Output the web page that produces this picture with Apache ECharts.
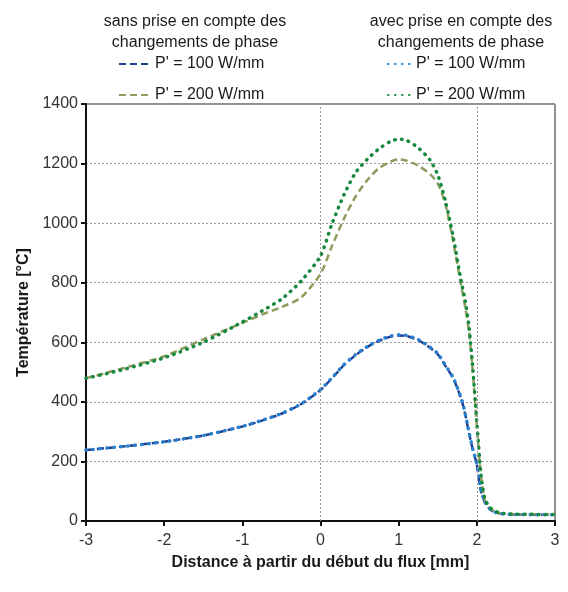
<!DOCTYPE html>
<html>
<head>
<meta charset="utf-8">
<script src="https://cdn.jsdelivr.net/npm/echarts@6/dist/echarts.min.js"></script>
<style>
  html, body { margin: 0; padding: 0; background: #fff; }
  #main { width: 568px; height: 592px; }
</style>
</head>
<body>
<div id="main"></div>
<script>
// abscisses communes (mm)
const xs = [-3, -2.5, -2, -1.5, -1, -0.75, -0.5, -0.25, 0, 0.15, 0.3, 0.45, 0.6, 0.75, 0.9, 1.0, 1.1, 1.25,
  1.4, 1.5, 1.6, 1.7, 1.8, 1.85, 1.9, 1.95, 2.0, 2.05, 2.1, 2.15, 2.2, 2.3, 2.5, 3];

// températures (°C)
const sans100 = [238, 251, 266, 287, 317, 337, 360, 392, 440, 480, 523, 557, 584, 605, 619, 623, 621, 607,
  582, 560, 520, 478, 410, 360, 295, 238, 190, 105, 65, 45, 33, 25, 22, 21];
const avec100 = [238, 251, 266, 287, 318, 338, 361, 393, 441, 482, 525, 559, 586, 607, 621, 625, 623, 609,
  584, 562, 522, 480, 412, 362, 298, 240, 192, 108, 66, 46, 33, 25, 22, 21];
const sans200 = [479, 515, 553, 610, 665, 693, 718, 750, 830, 925, 1015, 1090, 1145, 1185, 1207, 1214, 1210, 1193,
  1165, 1133, 1062, 935, 790, 720, 635, 495, 320, 160, 72, 50, 36, 26, 23, 22];
const avec200 = [479, 510, 548, 600, 668, 705, 745, 805, 890, 1000, 1095, 1170, 1215, 1250, 1275, 1282, 1278, 1253,
  1212, 1162, 1072, 950, 805, 740, 652, 507, 335, 165, 75, 52, 38, 27, 23, 22];

const legendLabels = {
  sans100: "P' = 100 W/mm",
  sans200: "P' = 200 W/mm",
  avec100: "P' = 100 W/mm",
  avec200: "P' = 200 W/mm"
};
const headers = ["sans prise en compte des\nchangements de phase", "avec prise en compte des\nchangements de phase"];
const vGridX = [0, 2];

const font = "Liberation Sans, Arial, sans-serif";
const pairs = (ys) => xs.map((x, i) => [x, ys[i]]);

const dashed = (name, ys, color) => ({
  name: name,
  type: "line",
  data: pairs(ys),
  symbol: "none",
  smooth: 0.25,
  lineStyle: { color: color, width: 2.5, type: [7, 4] },
  itemStyle: { color: color }
});
const dotted = (name, ys, color) => ({
  name: name,
  type: "line",
  data: pairs(ys),
  symbol: "none",
  smooth: 0.25,
  lineStyle: { color: color, width: 3.5, type: [0.5, 6.5], cap: "round" },
  itemStyle: { color: color }
});

const myChart = echarts.init(document.getElementById("main"));

const s1 = dashed("sans100", sans100, "#1f3f8f");
s1.markLine = {
  silent: true,
  symbol: "none",
  label: { show: false },
  lineStyle: { color: "#999", width: 1, type: [2, 2] },
  data: vGridX.map((x) => ({ xAxis: x }))
};

const legendBase = {
  orient: "vertical",
  top: 51,
  itemHeight: 16, itemGap: 15,
  itemStyle: { opacity: 0 },
  formatter: (n) => legendLabels[n],
  textStyle: { fontFamily: font, fontSize: 16, color: "#1a1a1a" }
};

const option = {
  animation: false,
  textStyle: { fontFamily: font },
  title: [
    {
      text: headers[0],
      left: 190, top: 6,
      textAlign: "center",
      textStyle: { fontFamily: font, fontSize: 16, fontWeight: "normal", color: "#1a1a1a", lineHeight: 21 }
    },
    {
      text: headers[1],
      left: 456, top: 6,
      textAlign: "center",
      textStyle: { fontFamily: font, fontSize: 16, fontWeight: "normal", color: "#1a1a1a", lineHeight: 21 }
    }
  ],
  legend: [
    Object.assign({}, legendBase, { data: ["sans100", "sans200"], left: 113, itemWidth: 31 }),
    Object.assign({}, legendBase, { data: ["avec100", "avec200"], left: 382, itemWidth: 23 })
  ],
  grid: {
    left: 86, right: 13, top: 104, bottom: 71,
    show: true,
    borderColor: "#222",
    borderWidth: 1
  },
  xAxis: {
    type: "value",
    min: -3, max: 3, interval: 1,
    name: "Distance à partir du début du flux [mm]",
    nameLocation: "middle",
    nameGap: 34,
    nameTextStyle: { fontFamily: font, fontSize: 16, fontWeight: "bold", color: "#1a1a1a" },
    axisLine: { onZero: false, lineStyle: { color: "#111", width: 2 } },
    axisTick: { show: true, length: 5, lineStyle: { color: "#111", width: 2 } },
    axisLabel: { fontFamily: font, fontSize: 16, color: "#333", margin: 12 },
    splitLine: { show: false }
  },
  yAxis: {
    type: "value",
    min: 0, max: 1400, interval: 200,
    name: "Température [°C]",
    nameLocation: "middle",
    nameGap: 49,
    nameTextStyle: { fontFamily: font, fontSize: 16, fontWeight: "bold", color: "#1a1a1a" },
    axisLine: { show: true, onZero: false, lineStyle: { color: "#111", width: 2 } },
    axisTick: { show: true, length: 5, lineStyle: { color: "#111", width: 2 } },
    axisLabel: { fontFamily: font, fontSize: 16, color: "#333", margin: 8, formatter: (v) => String(v) },
    splitLine: { show: true, lineStyle: { color: "#999", width: 1, type: [2, 2] } }
  },
  series: [
    s1,
    dashed("sans200", sans200, "#8c9c5c"),
    dotted("avec100", avec100, "#2a80d0"),
    dotted("avec200", avec200, "#17883f")
  ]
};

myChart.setOption(option);
</script>
</body>
</html>
